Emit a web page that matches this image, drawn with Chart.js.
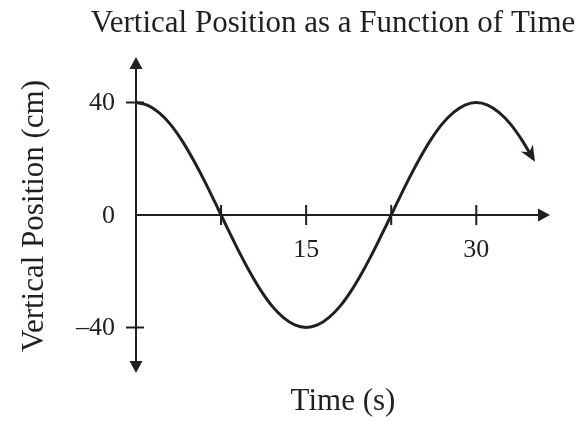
<!DOCTYPE html>
<html>
<head>
<meta charset="utf-8">
<script src="https://cdn.jsdelivr.net/npm/chart.js@4/dist/chart.umd.min.js"></script>
<style>
    html, body { margin: 0; padding: 0; background: #fff; }
    #wrap { width: 584px; height: 421px; }
</style>
</head>
<body>
<div id="wrap"><canvas id="posChart" width="584" height="421"></canvas></div>
<script>
// time (s) and vertical position (cm)
const timeValues = [0, 1, 2, 3, 4, 5, 6, 7, 8, 9, 10, 11, 12, 13, 14, 15, 16, 17,
    18, 19, 20, 21, 22, 23, 24, 25, 26, 27, 28, 29, 30, 31, 32, 33, 34, 35];
const positionValues = [40, 39.1, 36.5, 32.4, 26.8, 20, 12.4, 4.2, -4.2, -12.4, -20, -26.8,
    -32.4, -36.5, -39.1, -40, -39.1, -36.5, -32.4, -26.8, -20, -12.4, -4.2, 4.2,
    12.4, 20, 26.8, 32.4, 36.5, 39.1, 40, 39.1, 36.5, 32.4, 26.8, 20];

const xTickValues = [7.5, 15, 22.5, 30];
const xTickLabels = ['', '15', '', '30'];
const yTickValues = [40, 0, -40];
const yTickLabels = ['40', '0', '\u201340'];

const chartTitle = 'Vertical Position as a Function of Time';
const xTitle = 'Time (s)';
const yTitle = 'Vertical Position (cm)';

const INK = '#231f20';
const SERIF = "'Liberation Serif', 'Times New Roman', serif";

const dataset = [];
for (let i = 0; i < timeValues.length; i++) {
    dataset.push({ x: timeValues[i], y: positionValues[i] });
}

function triangle(ctx, tipX, tipY, angle, len, half) {
    ctx.save();
    ctx.translate(tipX, tipY);
    ctx.rotate(angle);
    ctx.beginPath();
    ctx.moveTo(0, 0);
    ctx.lineTo(-len, -half);
    ctx.lineTo(-len, half);
    ctx.closePath();
    ctx.fill();
    ctx.restore();
}

const axesPlugin = {
    id: 'axesPlugin',
    beforeDatasetsDraw: function (chart) {
        const ctx = chart.ctx;
        const xs = chart.scales.x;
        const ys = chart.scales.y;
        const area = chart.chartArea;
        const x0 = xs.getPixelForValue(0);
        const y0 = ys.getPixelForValue(0);
        ctx.save();
        ctx.strokeStyle = INK;
        ctx.fillStyle = INK;
        ctx.lineWidth = 2;

        // axis lines
        ctx.beginPath();
        ctx.moveTo(x0, area.top + 6);
        ctx.lineTo(x0, area.bottom - 6);
        ctx.moveTo(x0, y0);
        ctx.lineTo(area.right - 6, y0);
        ctx.stroke();

        // arrow heads
        triangle(ctx, area.right, y0, 0, 12, 6.5);
        triangle(ctx, x0, area.top, -Math.PI / 2, 12, 6.5);
        triangle(ctx, x0, area.bottom, Math.PI / 2, 12, 6.5);

        // ticks
        ctx.beginPath();
        xTickValues.forEach(function (v) {
            const px = xs.getPixelForValue(v);
            ctx.moveTo(px, y0 - 10);
            ctx.lineTo(px, y0 + 10);
        });
        yTickValues.forEach(function (v) {
            if (v === 0) return;
            const py = ys.getPixelForValue(v);
            ctx.moveTo(x0 - 10, py);
            ctx.lineTo(x0 + 8, py);
        });
        ctx.stroke();

        // tick labels
        ctx.font = '26px ' + SERIF;
        ctx.textAlign = 'center';
        ctx.textBaseline = 'middle';
        xTickValues.forEach(function (v, i) {
            if (xTickLabels[i]) {
                ctx.fillText(xTickLabels[i], xs.getPixelForValue(v), y0 + 35);
            }
        });
        ctx.textAlign = 'right';
        yTickValues.forEach(function (v, i) {
            ctx.fillText(yTickLabels[i], x0 - 21, ys.getPixelForValue(v) + 1);
        });

        // titles
        ctx.font = '31px ' + SERIF;
        ctx.textBaseline = 'alphabetic';
        ctx.textAlign = 'center';
        ctx.fillText(chartTitle, 333, 32);
        ctx.fillText(xTitle, 343, 410);
        ctx.save();
        ctx.translate(43, 216);
        ctx.rotate(-Math.PI / 2);
        ctx.fillText(yTitle, 0, 0);
        ctx.restore();
        ctx.restore();
    },
    afterDatasetsDraw: function (chart) {
        // arrow head at the end of the curve
        const ctx = chart.ctx;
        const meta = chart.getDatasetMeta(0);
        const pts = meta.data;
        const last = pts[pts.length - 1];
        const prev = pts[pts.length - 2];
        const angle = Math.atan2(last.y - prev.y, last.x - prev.x);
        ctx.save();
        ctx.fillStyle = INK;
        ctx.translate(last.x + 2, last.y + 3);
        ctx.rotate(angle);
        ctx.beginPath();
        ctx.moveTo(0, 0);
        ctx.lineTo(-16, -7);
        ctx.lineTo(-11, 0);
        ctx.lineTo(-16, 7);
        ctx.closePath();
        ctx.fill();
        ctx.restore();
    }
};

new Chart(document.getElementById('posChart'), {
    type: 'line',
    data: {
        datasets: [
            {
                label: 'Vertical Position',
                data: dataset,
                borderColor: INK,
                borderWidth: 3,
                pointRadius: 0,
                fill: false,
                cubicInterpolationMode: 'monotone',
                clip: false,
            }
        ]
    },
    options: {
        responsive: false,
        animation: false,
        layout: {
            padding: { left: 136, right: 34, top: 57, bottom: 48 }
        },
        plugins: {
            legend: { display: false },
            tooltip: { enabled: false },
            title: { display: false }
        },
        scales: {
            x: { type: 'linear', min: 0, max: 36.5, display: false },
            y: { type: 'linear', min: -56.2, max: 56.2, display: false }
        }
    },
    plugins: [axesPlugin]
});
</script>
</body>
</html>
